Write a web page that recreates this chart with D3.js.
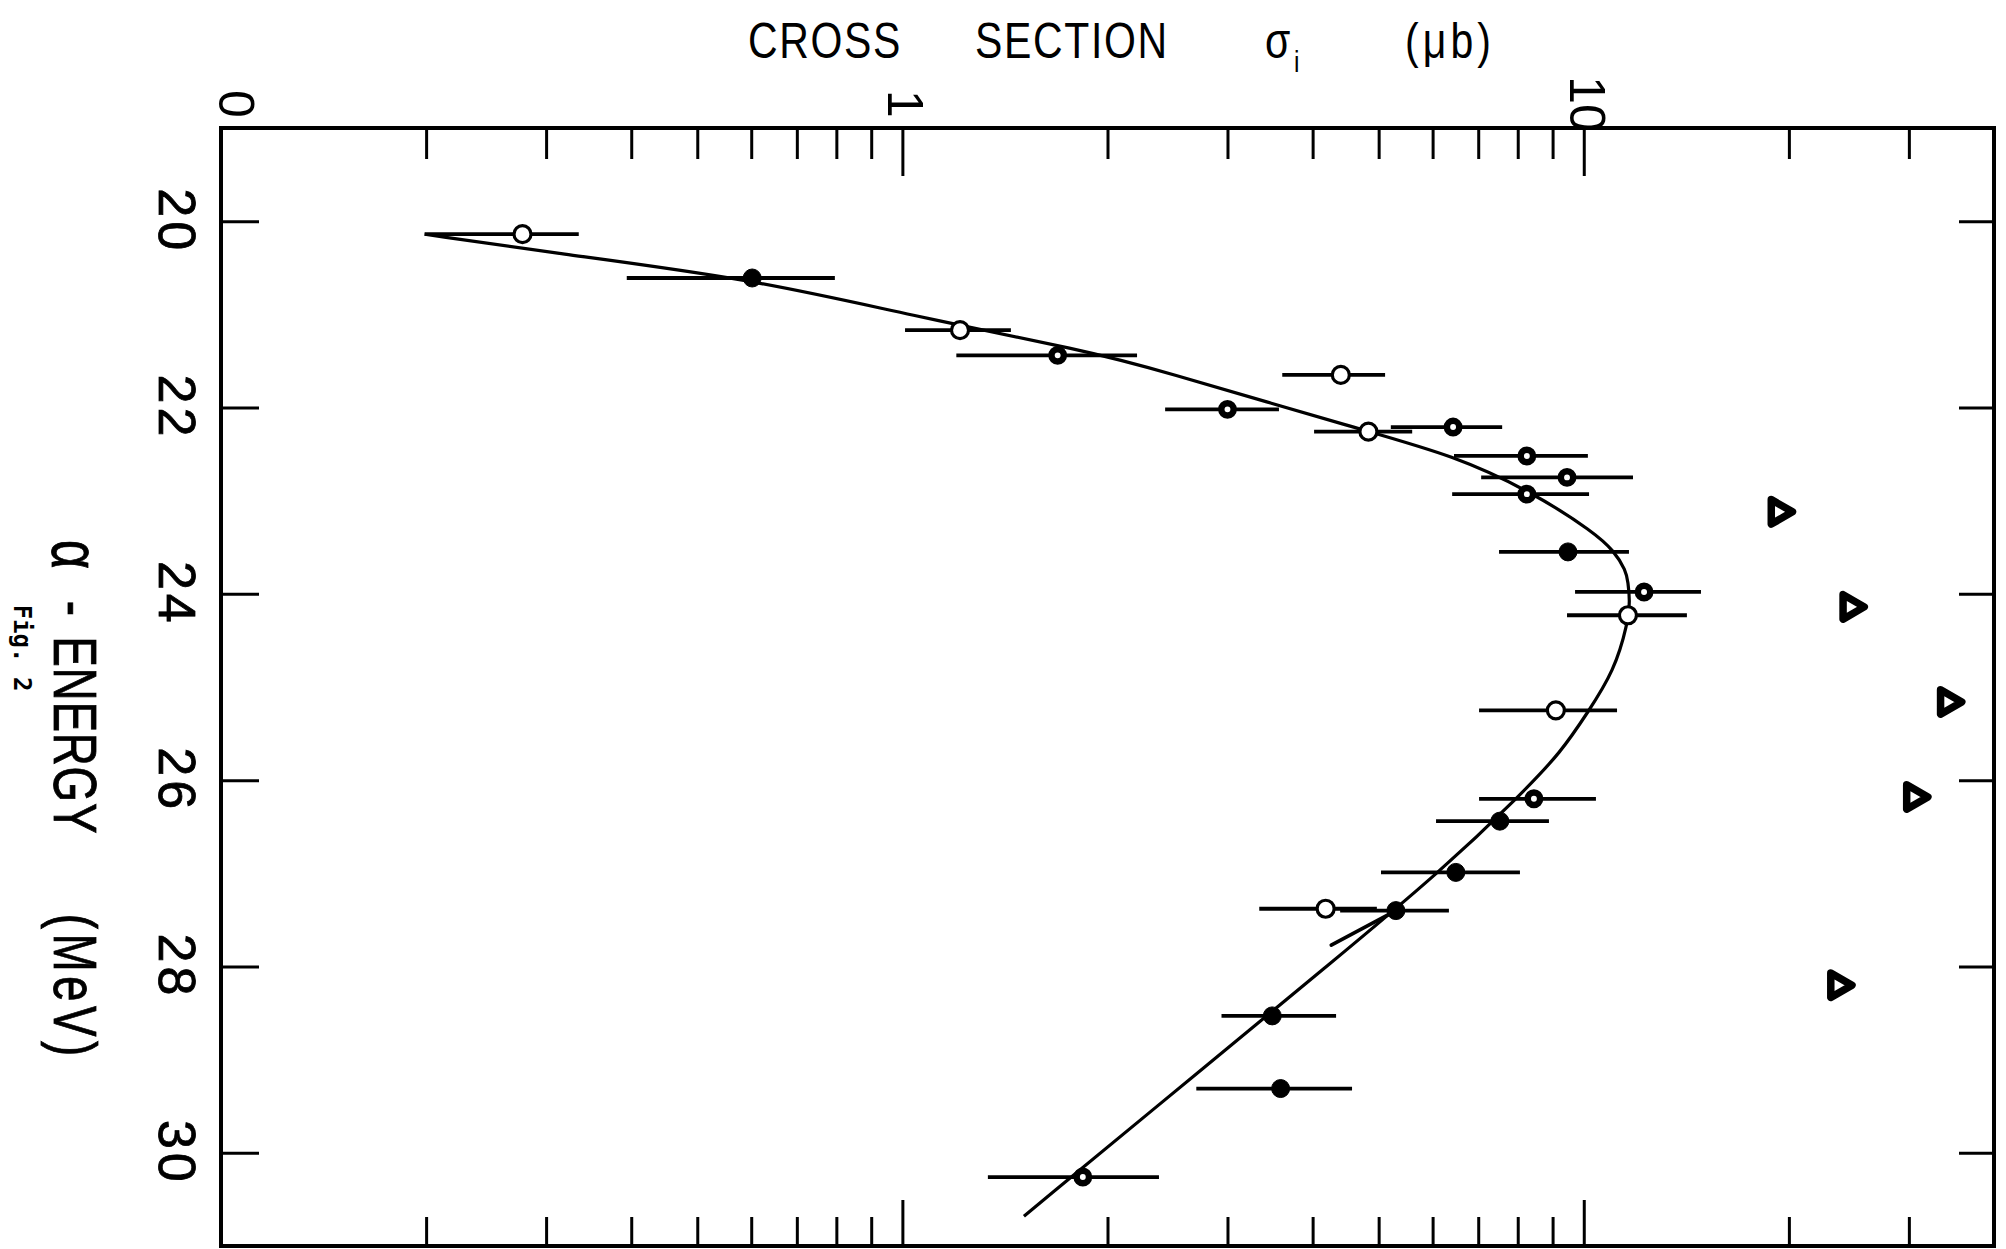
<!DOCTYPE html>
<html lang="en">
<head>
<meta charset="utf-8">
<style type="text/css">
	body { margin: 0; background: #fff; }
	svg { display: block; }
	text { fill: #000; }
</style>
</head>
<body>
<script src="https://d3js.org/d3.v7.min.js"></script>
<script type="text/javascript">
// alpha-energy (MeV) and cross section (microbarn)
var ptEnergy = [20.14, 20.61, 21.17, 21.44, 21.65, 22.02, 22.26, 22.21, 22.52, 22.75, 22.93, 23.55,
	23.98, 24.23, 25.25, 26.20, 26.44, 26.99, 27.38, 27.40, 28.53, 29.31, 30.26];
var ptSigma = [0.277, 0.602, 1.215, 1.69, 4.40, 3.00, 4.83, 6.43, 8.25, 9.45, 8.25, 9.48,
	12.26, 11.61, 9.10, 8.45, 7.53, 6.49, 4.18, 5.30, 3.49, 3.59, 1.84];
var ptLow = [0.199, 0.394, 1.009, 1.20, 3.61, 2.43, 4.02, 5.21, 6.45, 7.07, 6.41, 7.51,
	9.71, 9.45, 7.02, 7.02, 6.07, 5.04, 3.34, 4.39, 2.94, 2.70, 1.335];
var ptHigh = [0.335, 0.796, 1.443, 2.21, 5.11, 3.57, 5.60, 7.59, 10.14, 11.81, 10.18, 11.65,
	14.86, 14.17, 11.19, 10.42, 8.89, 8.06, 4.97, 6.34, 4.33, 4.57, 2.38];
var ptKind = ["open", "filled", "open", "ring", "open", "ring", "open", "ring", "ring", "ring", "ring", "filled",
	"ring", "open", "open", "ring", "filled", "filled", "open", "filled", "filled", "filled", "ring"];

var triEnergy = [23.12, 24.14, 25.16, 26.18, 28.20];
var triSigma = [19.3, 24.6, 34.2, 30.5, 23.6];

var curveEnergy = [20.14, 20.34, 20.62, 21.01, 21.40, 21.57, 22.26, 22.51, 22.91, 23.34, 23.54, 23.75,
	23.87, 24.07, 24.31, 24.83, 25.27, 25.70, 26.14, 26.97, 28.00, 29.00, 30.68];
var curveSigma = [0.199, 0.307, 0.602, 1.026, 1.879, 2.309, 4.825, 6.408, 8.42, 10.35, 11.08, 11.53,
	11.61, 11.69, 11.61, 11.08, 10.14, 9.26, 8.12, 6.19, 4.195, 2.862, 1.508];

var stubEnergy = [27.77, 27.40];
var stubSigma = [4.26, 5.30];

var energyTicks = [20, 22, 24, 26, 28, 30];
var sigmaMinorTicks = [0.2, 0.3, 0.4, 0.5, 0.6, 0.7, 0.8, 0.9, 2, 3, 4, 5, 6, 7, 8, 9, 20, 30];
var sigmaMajorTicks = [1, 10];
var sigmaLabelValues = [0.1, 1, 10];
var sigmaLabelText = ["0", "1", "10"];

var width = 2006, height = 1249;
var margin = {top: 128, right: 12, bottom: 3, left: 221};

var svg = d3.select("body")
	.append("svg")
	.attr("width", width)
	.attr("height", height);

var x = d3.scaleLog()
	.domain([0.1, 40])
	.range([margin.left, width - margin.right]);
var y = d3.scaleLinear()
	.domain([19, 31])
	.range([margin.top, height - margin.bottom]);

function noDomain(g) { g.select(".domain").remove(); }

// ticks, all pointing inward
svg.append("g")
	.attr("transform", "translate(0," + margin.top + ")")
	.call(d3.axisTop(x).tickValues(sigmaMinorTicks).tickSize(-31).tickFormat(""))
	.call(noDomain);
svg.append("g")
	.attr("transform", "translate(0," + margin.top + ")")
	.call(d3.axisTop(x).tickValues(sigmaMajorTicks).tickSize(-48).tickFormat(""))
	.call(noDomain);
svg.append("g")
	.attr("transform", "translate(0," + (height - margin.bottom) + ")")
	.call(d3.axisBottom(x).tickValues(sigmaMinorTicks).tickSize(-29).tickFormat(""))
	.call(noDomain);
svg.append("g")
	.attr("transform", "translate(0," + (height - margin.bottom) + ")")
	.call(d3.axisBottom(x).tickValues(sigmaMajorTicks).tickSize(-46).tickFormat(""))
	.call(noDomain);
svg.append("g")
	.attr("transform", "translate(" + margin.left + ",0)")
	.call(d3.axisLeft(y).tickValues(energyTicks).tickSize(-38).tickFormat(""))
	.call(noDomain);
svg.append("g")
	.attr("transform", "translate(" + (width - margin.right) + ",0)")
	.call(d3.axisRight(y).tickValues(energyTicks).tickSize(-35).tickFormat(""))
	.call(noDomain);

svg.selectAll(".tick line").style("stroke", "#000").style("stroke-width", 3);

// frame
svg.append("rect")
	.attr("x", margin.left)
	.attr("y", margin.top)
	.attr("width", width - margin.left - margin.right)
	.attr("height", height - margin.top - margin.bottom)
	.attr("fill", "none")
	.attr("stroke", "#000")
	.attr("stroke-width", 4);

// lettering is condensed in the scan, so squeeze a plain sans a bit
var font = "'Liberation Sans', Arial, sans-serif";

svg.append("g")
	.selectAll("text")
	.data(energyTicks)
	.enter()
	.append("text")
	.attr("transform", function (d) { return "translate(" + (margin.left - 44) + "," + y(d) + ") rotate(90)"; })
	.attr("text-anchor", "middle")
	.attr("dominant-baseline", "central")
	.style("font-family", font)
	.style("font-size", "52px")
	.style("letter-spacing", "4px")
	.style("stroke", "#000")
	.style("stroke-width", 0.8)
	.text(function (d) { return d; });

svg.append("g")
	.selectAll("text")
	.data(sigmaLabelValues)
	.enter()
	.append("text")
	.attr("transform", function (d, i) {
		var dx = i === 0 ? 15 : 3;
		return "translate(" + (x(d) + dx) + "," + (margin.top - 24) + ") rotate(90)";
	})
	.attr("text-anchor", "middle")
	.attr("dominant-baseline", "central")
	.style("font-family", font)
	.style("font-size", "50px")
	.text(function (d, i) { return sigmaLabelText[i]; });

// axis titles
var titleWords = [
	{t: "CROSS", x: 748},
	{t: "SECTION", x: 975},
	{t: "σ", x: 1265},
	{t: "(μb)", x: 1405}
];
svg.append("g")
	.selectAll("text")
	.data(titleWords)
	.enter()
	.append("text")
	.attr("transform", function (d) { return "translate(" + d.x + ",58) scale(0.82,1)"; })
	.style("font-family", font)
	.style("font-size", "50px")
	.style("letter-spacing", function (d) { return d.t === "(μb)" ? "5px" : "2px"; })
	.text(function (d) { return d.t; });
svg.append("text")
	.attr("transform", "translate(1294,72) scale(0.82,1)")
	.style("font-family", font)
	.style("font-size", "30px")
	.text("i");

var eTitle = svg.append("text")
	.attr("transform", "translate(76,540) rotate(90) scale(0.74,1)")
	.attr("dominant-baseline", "central")
	.style("font-family", font)
	.style("font-size", "62px")
	.style("stroke", "#000")
	.style("stroke-width", 0.8);
eTitle.append("tspan").attr("x", 0).style("font-size", "68px").text("α");
eTitle.append("tspan").attr("x", 82).text("-");
eTitle.append("tspan").attr("x", 130).style("letter-spacing", "1px").text("ENERGY");
eTitle.append("tspan").attr("x", 505).style("letter-spacing", "6px").text("(MeV)");

svg.append("text")
	.attr("transform", "translate(22,648) rotate(90)")
	.attr("text-anchor", "middle")
	.attr("dominant-baseline", "central")
	.style("font-family", "'DejaVu Sans Mono', monospace")
	.style("font-size", "24px")
	.style("font-weight", "bold")
	.text("Fig. 2");

// fitted curve
var curvePts = curveEnergy.map(function (e, i) { return [curveSigma[i], e]; });
var line = d3.line()
	.x(function (d) { return x(d[0]); })
	.y(function (d) { return y(d[1]); })
	.curve(d3.curveBasis);

svg.append("path")
	.attr("d", line(curvePts))
	.attr("fill", "none")
	.attr("stroke", "#000")
	.attr("stroke-width", 3.2);

svg.append("path")
	.attr("d", d3.line().x(function (d) { return x(d[0]); }).y(function (d) { return y(d[1]); })(
		stubEnergy.map(function (e, i) { return [stubSigma[i], e]; })))
	.attr("fill", "none")
	.attr("stroke", "#000")
	.attr("stroke-width", 3.6)
	.attr("stroke-linecap", "round");

// error bars and points
var pts = ptEnergy.map(function (e, i) {
	return {e: e, s: ptSigma[i], lo: ptLow[i], hi: ptHigh[i], kind: ptKind[i]};
});

svg.append("g")
	.selectAll("line")
	.data(pts)
	.enter()
	.append("line")
	.attr("x1", function (d) { return x(d.lo); })
	.attr("x2", function (d) { return x(d.hi); })
	.attr("y1", function (d) { return y(d.e); })
	.attr("y2", function (d) { return y(d.e); })
	.attr("stroke", "#000")
	.attr("stroke-width", 3.8);

svg.append("g")
	.selectAll("circle")
	.data(pts)
	.enter()
	.append("circle")
	.attr("cx", function (d) { return x(d.s); })
	.attr("cy", function (d) { return y(d.e); })
	.attr("r", function (d) { return d.kind === "open" ? 8.5 : d.kind === "ring" ? 6.2 : 9; })
	.attr("fill", function (d) { return d.kind === "filled" ? "#000" : "#fff"; })
	.attr("stroke", "#000")
	.attr("stroke-width", function (d) { return d.kind === "open" ? 3.2 : d.kind === "ring" ? 6.5 : 1; });

// triangles
svg.append("g")
	.selectAll("path")
	.data(triEnergy)
	.enter()
	.append("path")
	.attr("d", d3.symbol().type(d3.symbolTriangle).size(260))
	.attr("transform", function (d, i) { return "translate(" + x(triSigma[i]) + "," + y(d) + ") rotate(90)"; })
	.attr("fill", "#fff")
	.attr("stroke", "#000")
	.attr("stroke-width", 7.5)
	.attr("stroke-linejoin", "round");
</script>
</body>
</html>
